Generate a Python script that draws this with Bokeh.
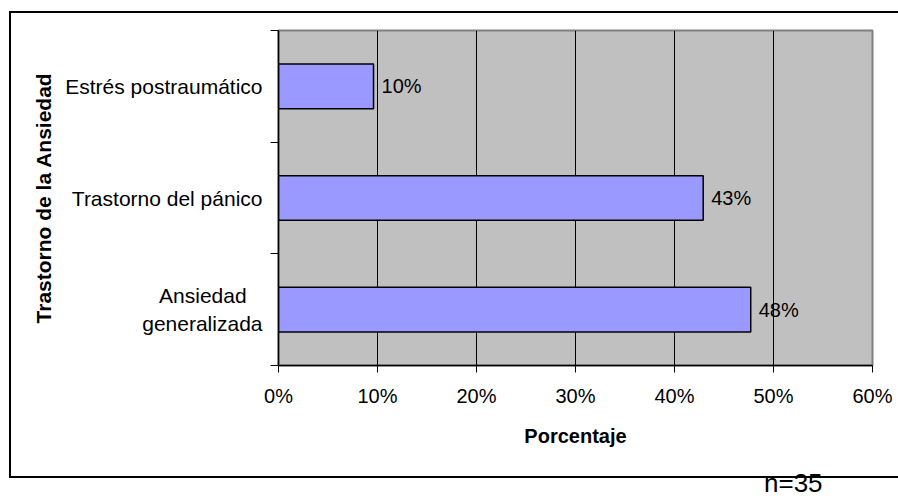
from bokeh.plotting import figure
from bokeh.models import FixedTicker, Range1d, LinearAxis, ColumnDataSource
from bokeh.core.properties import value
from bokeh.embed import file_html
from bokeh.resources import INLINE

# Data
categories = ["Ansiedad\u00a0\u00a0\u2009\ngeneralizada", "Trastorno del pánico", "Estrés postraumático"]
percentages = [47.7, 42.9, 9.6]
x_ticks = [0, 10, 20, 30, 40, 50, 60]
x_tick_labels = ["0%", "10%", "20%", "30%", "40%", "50%", "60%"]
sample_note = "n=35"

FONT = "Liberation Sans"
NOTE_X = 52  # horizontal anchor of the sample-size note, in axis units

positions = [i + 0.5 for i in range(len(categories))]
source = ColumnDataSource(dict(
    y=positions,
    value=percentages,
    label=[f"{round(v)}%" for v in percentages],
))

p = figure(width=898, height=500, output_backend="svg", toolbar_location=None,
           x_range=Range1d(0, 60), y_range=Range1d(0, len(categories)),
           min_border_left=278, min_border_right=26, min_border_top=30,
           min_border_bottom=135)

p.background_fill_color = "#C0C0C0"
p.border_fill_color = None
p.outline_line_color = "#808080"
p.outline_line_width = 2

# Chart-area frame (open on the right), drawn behind the transparent canvas
p.styles = {
    "background-color": "white",
    "background-image": ("linear-gradient(#000,#000), linear-gradient(#000,#000), "
                         "linear-gradient(#000,#000)"),
    "background-size": "900px 2px, 2px 467px, 900px 2px",
    "background-position": "9px 11px, 9px 11px, 9px 476px",
    "background-repeat": "no-repeat",
}

# Bars
p.hbar(y="y", right="value", left=0, height=0.4, source=source,
       fill_color="#9999FF", line_color="black", line_width=1.5)

# Value labels
p.text(x="value", y="y", text="label", source=source, x_offset=8,
       text_font=value(FONT), text_font_size="20px", text_baseline="middle",
       text_align="left", text_color="black")

# Grid
p.ygrid.visible = False
p.xgrid.ticker = FixedTicker(ticks=x_ticks)
p.xgrid.grid_line_color = "black"
p.xgrid.grid_line_width = 1

# X axis
xa = p.xaxis[0]
xa.ticker = FixedTicker(ticks=x_ticks)
xa.major_label_overrides = {t: s for t, s in zip(x_ticks, x_tick_labels)}
xa.axis_line_color = "black"
xa.axis_line_width = 1.5
xa.major_tick_line_color = "black"
xa.major_tick_out = 7
xa.major_tick_in = 0
xa.minor_tick_line_color = None
xa.major_label_text_font = FONT
xa.major_label_text_font_size = "20px"
xa.major_label_text_color = "black"
xa.major_label_standoff = 12
xa.axis_label = "Porcentaje"
xa.axis_label_text_font = FONT
xa.axis_label_text_font_size = "20px"
xa.axis_label_text_font_style = "bold"
xa.axis_label_text_color = "black"
xa.axis_label_standoff = 15

# Y axis: labels at category centres, ticks at category boundaries
ya = p.yaxis[0]
ya.ticker = FixedTicker(ticks=positions,
                        minor_ticks=list(range(len(categories) + 1)))
ya.major_label_overrides = {pos: c for pos, c in zip(positions, categories)}
ya.axis_line_color = "black"
ya.axis_line_width = 1.5
ya.major_tick_out = 0
ya.major_tick_in = 0
ya.minor_tick_line_color = "black"
ya.minor_tick_out = 8
ya.minor_tick_in = 0
ya.major_label_text_font = FONT
ya.major_label_text_font_size = "21px"
ya.major_label_text_color = "black"
ya.major_label_standoff = 8
ya.axis_label = "Trastorno de la Ansiedad"
ya.axis_label_text_font = FONT
ya.axis_label_text_font_size = "21px"
ya.axis_label_text_font_style = "bold"
ya.axis_label_text_color = "black"
ya.axis_label_standoff = 7

# Sample size note under the frame, carried by a bare second axis
note_axis = LinearAxis(ticker=FixedTicker(ticks=[NOTE_X]),
                       major_label_overrides={NOTE_X: sample_note},
                       axis_line_color=None, major_tick_line_color=None,
                       minor_tick_line_color=None, major_tick_out=0,
                       major_tick_in=0, major_label_standoff=18,
                       major_label_text_font=FONT,
                       major_label_text_font_size="26px",
                       major_label_text_color="black")
p.add_layout(note_axis, "below")

with open("out.html", "w") as f:
    f.write(file_html(p, INLINE))
